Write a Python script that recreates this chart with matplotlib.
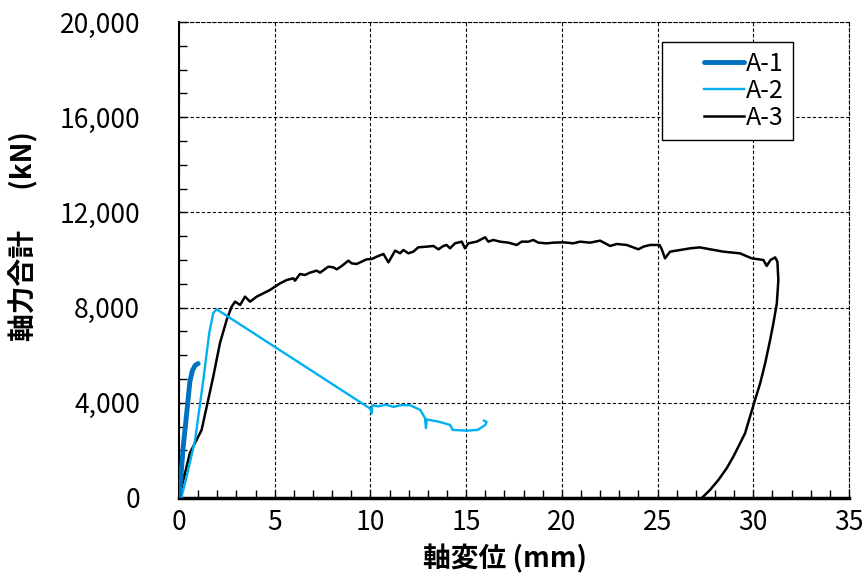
import matplotlib
matplotlib.use("Agg")
import numpy as np
import matplotlib.pyplot as plt
from matplotlib.ticker import MultipleLocator, FuncFormatter
from matplotlib.legend_handler import HandlerLine2D

plt.rcParams['font.family'] = ['Noto Sans CJK JP', 'DejaVu Sans']

# A-1
a1_x = [0, 0.1, 0.22, 0.4, 0.57, 0.7, 0.85, 1.0]
a1_y = [0, 900, 2150, 3550, 4900, 5350, 5580, 5650]

# A-2
a2_x = [0.12, 0.4, 0.84, 1.27, 1.58, 1.79, 1.97, 10.0, 10.07, 10.1, 10.4, 10.8, 11.2, 11.6, 12.07,
        12.6, 12.85, 12.9, 12.95, 13.6, 14.16, 14.3, 15.03, 15.6, 16.0, 16.07, 15.93]
a2_y = [0, 900, 2437, 4958, 6933, 7773, 7928, 3750, 3560, 3900, 3850, 3920, 3830, 3900, 3900,
        3700, 3360, 2940, 3300, 3200, 3070, 2860, 2830, 2860, 3070, 3200, 3250]

# A-3
a3_x = [0, 0.57, 1.18, 1.79, 2.14, 2.49, 2.75, 2.93, 3.19, 3.45, 3.71, 4.06, 4.75,
        5.28, 5.63, 5.97, 6.06, 6.32, 6.58, 6.84, 7.19, 7.37, 7.80, 8.06, 8.24, 8.50, 8.85,
        9.02, 9.28, 9.54, 9.80, 10.07, 10.33, 10.68, 10.94, 11.29, 11.55, 11.72, 11.98, 12.24,
        12.5, 12.94, 13.29, 13.55, 13.81, 13.98, 14.16, 14.42, 14.77, 14.94, 15.12, 15.55,
        15.99, 16.16, 16.42, 16.77, 17.21, 17.64, 17.9, 18.25, 18.51, 18.77, 19.21, 19.56,
        20.08, 20.6, 20.95, 21.47, 22.0, 22.26, 22.52, 22.87, 23.39, 24.0, 24.26, 24.61, 25.1,
        25.2, 25.39, 25.65, 26.7, 27.2, 28.44, 29.3, 29.92, 30.53, 30.7, 30.9, 31.14, 31.26,
        31.31, 31.23, 31.05, 30.88, 30.62, 30.36, 30.09, 29.83, 29.57, 29.31, 28.96, 28.61,
        28.18, 27.74, 27.31]
a3_y = [0, 1890, 2857, 5100, 6510, 7480, 8040, 8250, 8110, 8460, 8250, 8460, 8740,
        9020, 9160, 9230, 9132, 9412, 9370, 9468, 9552, 9468, 9720, 9692, 9608, 9748, 9972,
        9860, 9832, 9930, 10028, 10042, 10140, 10253, 9902, 10393, 10281, 10421, 10281, 10351,
        10533, 10561, 10589, 10449, 10589, 10631, 10491, 10701, 10771, 10491, 10701, 10771,
        10953, 10771, 10841, 10771, 10729, 10631, 10771, 10771, 10841, 10729, 10701, 10729,
        10743, 10701, 10771, 10729, 10813, 10701, 10589, 10673, 10631, 10449, 10561, 10631, 10631,
        10490, 10070, 10350, 10490, 10530, 10350, 10280, 10070, 10000, 9750, 10000, 10110, 9930,
        9160, 8180, 7340, 6640, 5660, 4820, 4120, 3420, 2720, 2300, 1740, 1250,
        760, 340, 0]

labels = ['A-1', 'A-2', 'A-3']
x_ticks = [0, 5, 10, 15, 20, 25, 30, 35]
y_ticks = [0, 4000, 8000, 12000, 16000, 20000]


class RightHandle(HandlerLine2D):
    def get_xdata(self, legend, xdescent, ydescent, width, height, fontsize):
        x0 = -xdescent + width * 0.45
        x1 = -xdescent + width
        return np.array([x0, x1]), np.array([x0, x1])


fig = plt.figure(figsize=(8.68, 5.81), dpi=100)
ax = fig.add_axes([179/868, 83/581, 670/868, 476/581])

ax.plot(a1_x, a1_y, color='#0070C0', lw=3.5, label=labels[0], solid_capstyle='round', zorder=5)
ax.plot(a2_x, a2_y, color='#00B0F0', lw=1.7, label=labels[1], zorder=4)
ax.plot(a3_x, a3_y, color='black', lw=1.8, label=labels[2], zorder=3)

ax.set_xlim(0, 35)
ax.set_ylim(0, 20000)
ax.set_xticks(x_ticks)
ax.set_yticks(y_ticks)
ax.xaxis.set_minor_locator(MultipleLocator(1))
ax.yaxis.set_minor_locator(MultipleLocator(1000))
ax.yaxis.set_major_formatter(FuncFormatter(lambda v, p: f"{int(v):,}"))

ax.tick_params(axis='both', which='both', direction='in', top=False, right=False)
ax.tick_params(axis='both', which='major', length=6, width=1, labelsize=19)
ax.tick_params(axis='both', which='minor', length=6, width=1)
ax.tick_params(axis='y', which='major', pad=28)
ax.tick_params(axis='x', which='major', pad=8)

ax.grid(True, which='major', linestyle=(0, (3, 2)), color='black', lw=0.8)

for s in ['top', 'right']:
    ax.spines[s].set_linestyle((0, (3, 2)))
    ax.spines[s].set_linewidth(0.8)
ax.spines['left'].set_linewidth(1.5)
ax.spines['bottom'].set_linewidth(2.5)

ax.set_xlabel('軸変位 (mm)', fontsize=20, fontweight='bold')
ax.set_ylabel('軸力合計　  (kN)', fontsize=20, fontweight='bold')
ax.xaxis.set_label_coords(0.487, -0.097)
ax.yaxis.set_label_coords(-0.21, 0.55)

leg = ax.legend(loc='upper right', bbox_to_anchor=(0.916, 0.958), fontsize=18,
                frameon=True, fancybox=False, edgecolor='black', framealpha=1,
                handlelength=2.9, handletextpad=0.1, borderpad=0.35, labelspacing=0.05,
                borderaxespad=0, handler_map={matplotlib.lines.Line2D: RightHandle()})
leg.get_frame().set_linewidth(1.0)

fig.savefig('out.png', dpi=100)
